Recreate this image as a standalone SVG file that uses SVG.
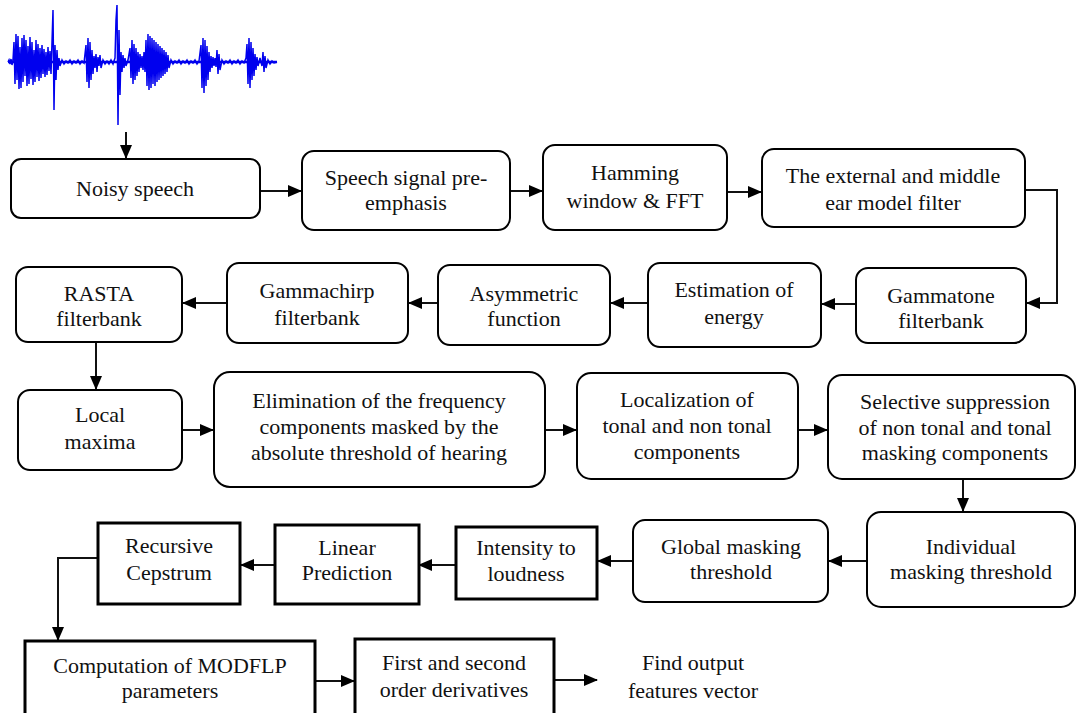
<svg xmlns="http://www.w3.org/2000/svg" width="1077" height="713" viewBox="0 0 1077 713">
<style>
.rb{fill:#fff;stroke:#000;stroke-width:2}
.sb{fill:#fff;stroke:#000;stroke-width:3}
text{font-family:"Times New Roman",Times,"Liberation Serif","DejaVu Serif",serif;font-size:22px;fill:#111;text-anchor:middle;dominant-baseline:central}
.c{fill:none;stroke:#111;stroke-width:2}
</style>
<defs>
<marker id="ah" markerUnits="userSpaceOnUse" markerWidth="14" markerHeight="12" refX="13" refY="6" orient="auto">
<path d="M0,0 L14,6 L0,12 Z" fill="#000"/>
</marker>
</defs>
<rect width="1077" height="713" fill="#fff"/>
<g id="waveform">
<path d="M8 62 H277" stroke="#0000ee" stroke-width="2.5"/>
<path fill="none" stroke="#0000ee" stroke-width="1.5" d="M8 62 L9 60 L10 64 L11 59 L12 65 L13 60 L14 42 L15 84 L16 34 L17 80 L18 36 L19 89 L20 47 L21 88 L22 38 L23 82 L24 35 L25 76 L26 40 L27 86 L28 46 L29 84 L30 37 L31 79 L32 42 L33 85 L34 50 L35 82 L36 40 L37 77 L38 44 L39 81 L40 48 L41 78 L42 45 L43 74 L44 49 L45 77 L46 52 L47 75 L48 47 L49 71 L50 51 L51 74 L52 42 L53 10 L54 110 L55 45 L56 80 L57 50 L58 70 L59 58 L60 66 L62 60 L64 64 L66 61 L68 63 L70 60 L72 64 L74 61 L76 63 L78 60 L80 64 L82 61 L84 63 L86 45 L87 82 L88 38 L89 88 L90 42 L91 80 L92 50 L93 74 L94 56 L95 68 L96 54 L97 72 L98 57 L99 66 L100 55 L101 68 L103 60 L105 64 L107 61 L109 64 L111 60 L113 64 L115 58 L116 20 L117 5 L118 125 L119 30 L120 95 L121 52 L122 72 L123 55 L124 68 L125 58 L126 66 L128 60 L130 48 L131 78 L132 40 L133 84 L134 44 L135 80 L136 48 L137 76 L138 52 L139 72 L140 54 L141 68 L142 56 L143 70 L144 52 L145 72 L146 40 L147 86 L148 34 L149 90 L150 36 L151 88 L152 38 L153 84 L154 40 L155 86 L156 42 L157 82 L158 44 L159 80 L160 46 L161 78 L162 48 L163 76 L164 50 L165 74 L166 52 L167 72 L168 55 L169 68 L171 60 L173 64 L175 61 L177 63 L179 60 L181 64 L183 61 L185 63 L187 60 L189 64 L191 61 L193 63 L195 60 L197 64 L199 61 L201 45 L202 88 L203 38 L204 93 L205 40 L206 86 L207 46 L208 80 L209 52 L210 72 L211 56 L212 68 L213 57 L214 66 L215 58 L216 67 L217 50 L218 74 L219 54 L220 70 L222 60 L224 64 L226 61 L228 63 L230 60 L232 64 L234 61 L236 63 L238 60 L240 64 L242 61 L244 63 L246 58 L247 44 L248 84 L249 38 L250 88 L251 42 L252 80 L253 48 L254 76 L255 54 L256 70 L257 57 L258 66 L260 58 L262 66 L263 52 L264 72 L265 56 L266 68 L268 60 L270 64 L272 61 L274 63 L277 62"/>
</g>
<g id="connectors">
<path class="c" d="M126 132 V158" marker-end="url(#ah)"/>
<path class="c" d="M260 191 H301" marker-end="url(#ah)"/>
<path class="c" d="M510 191 H542" marker-end="url(#ah)"/>
<path class="c" d="M727 192 H761" marker-end="url(#ah)"/>
<path class="c" d="M1025 190 H1057 V303 H1027" marker-end="url(#ah)"/>
<path class="c" d="M856 304 H822" marker-end="url(#ah)"/>
<path class="c" d="M648 303 H611" marker-end="url(#ah)"/>
<path class="c" d="M438 303 H409" marker-end="url(#ah)"/>
<path class="c" d="M227 303 H183" marker-end="url(#ah)"/>
<path class="c" d="M96 342 V389" marker-end="url(#ah)"/>
<path class="c" d="M182 430 H213" marker-end="url(#ah)"/>
<path class="c" d="M545 430 H576" marker-end="url(#ah)"/>
<path class="c" d="M798 430 H827" marker-end="url(#ah)"/>
<path class="c" d="M963 479 V511" marker-end="url(#ah)"/>
<path class="c" d="M867 561 H829" marker-end="url(#ah)"/>
<path class="c" d="M633 561 H598" marker-end="url(#ah)"/>
<path class="c" d="M455 565 H419" marker-end="url(#ah)"/>
<path class="c" d="M275 565 H241" marker-end="url(#ah)"/>
<path class="c" d="M98 558 H58 V640" marker-end="url(#ah)"/>
<path class="c" d="M315 681 H354" marker-end="url(#ah)"/>
<path class="c" d="M554 680 H597" marker-end="url(#ah)"/>
</g>
<g id="noisy"><rect class="rb" x="11" y="159" width="249" height="59" rx="10"/><text x="135" y="188">Noisy speech</text></g>
<g id="preemph"><rect class="rb" x="302" y="151" width="208" height="79" rx="12"/><text x="406" y="177">Speech signal pre-</text><text x="406" y="202">emphasis</text></g>
<g id="hamming"><rect class="rb" x="543" y="145" width="184" height="85" rx="12"/><text x="635" y="172">Hamming</text><text x="635" y="200">window &amp; FFT</text></g>
<g id="external"><rect class="rb" x="762" y="149" width="263" height="78" rx="12"/><text x="893" y="175">The external and middle</text><text x="893" y="202">ear model filter</text></g>
<g id="gammatone"><rect class="rb" x="856" y="268" width="170" height="75" rx="12"/><text x="941" y="295">Gammatone</text><text x="941" y="320">filterbank</text></g>
<g id="energy"><rect class="rb" x="648" y="263" width="173" height="84" rx="12"/><text x="734" y="289">Estimation of</text><text x="734" y="316">energy</text></g>
<g id="asym"><rect class="rb" x="438" y="265" width="172" height="80" rx="12"/><text x="524" y="293">Asymmetric</text><text x="524" y="318">function</text></g>
<g id="gammachirp"><rect class="rb" x="227" y="263" width="181" height="80" rx="12"/><text x="317" y="290">Gammachirp</text><text x="317" y="317">filterbank</text></g>
<g id="rasta"><rect class="rb" x="16" y="267" width="166" height="75" rx="12"/><text x="99" y="293">RASTA</text><text x="99" y="318">filterbank</text></g>
<g id="localmax"><rect class="rb" x="18" y="390" width="164" height="80" rx="12"/><text x="100" y="414">Local</text><text x="100" y="441">maxima</text></g>
<g id="elim"><rect class="rb" x="214" y="372" width="331" height="115" rx="16"/><text x="379" y="400">Elimination of the frequency</text><text x="379" y="426">components masked by the</text><text x="379" y="452">absolute threshold of hearing</text></g>
<g id="localization"><rect class="rb" x="577" y="373" width="221" height="106" rx="14"/><text x="687" y="399">Localization of</text><text x="687" y="425">tonal and non tonal</text><text x="687" y="451">components</text></g>
<g id="selective"><rect class="rb" x="828" y="375" width="247" height="104" rx="14"/><text x="955" y="401">Selective suppression</text><text x="955" y="427">of non tonal and tonal</text><text x="955" y="452">masking components</text></g>
<g id="individual"><rect class="rb" x="867" y="512" width="208" height="95" rx="14"/><text x="971" y="546">Individual</text><text x="971" y="571">masking threshold</text></g>
<g id="global"><rect class="rb" x="633" y="520" width="195" height="82" rx="12"/><text x="731" y="546">Global masking</text><text x="731" y="571">threshold</text></g>
<g id="intensity"><rect class="sb" x="456" y="527" width="141" height="72"/><text x="526" y="547">Intensity to</text><text x="526" y="573">loudness</text></g>
<g id="linear"><rect class="sb" x="275" y="525" width="144" height="79"/><text x="347" y="547">Linear</text><text x="347" y="572">Prediction</text></g>
<g id="recursive"><rect class="sb" x="98" y="523" width="142" height="81"/><text x="169" y="545">Recursive</text><text x="169" y="572">Cepstrum</text></g>
<g id="computation"><rect class="sb" x="25" y="641" width="290" height="78"/><text x="170" y="665">Computation of MODFLP</text><text x="170" y="690">parameters</text></g>
<g id="derivatives"><rect class="sb" x="355" y="639" width="199" height="80"/><text x="454" y="662">First and second</text><text x="454" y="689">order derivatives</text></g>
<g id="output"><text x="693" y="662">Find output</text><text x="693" y="690">features vector</text></g>
</svg>
